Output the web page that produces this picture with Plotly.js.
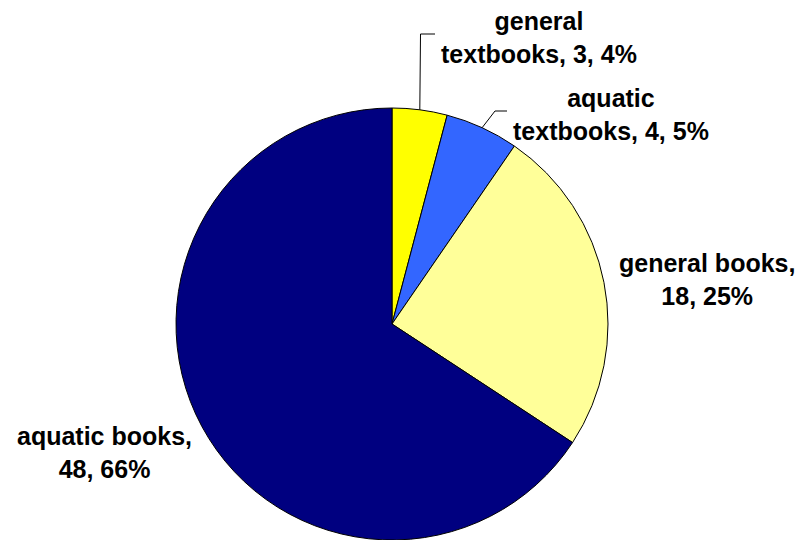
<!DOCTYPE html>
<html>
<head>
<meta charset="utf-8">
<script src="https://cdn.plot.ly/plotly-3.0.1.min.js"></script>
<style>html,body{margin:0;padding:0;background:#fff;}#chart{width:800px;height:540px;}</style>
</head>
<body>
<div id="chart"></div>
<script>
// Data
const categories = ['general textbooks', 'aquatic textbooks', 'general books', 'aquatic books'];
const values = [3, 4, 18, 48];
const colors = ['#FFFF00', '#3366FF', '#FFFF99', '#000080'];
// Where each label line breaks (first line / rest)
const labelLine1 = ['general', 'aquatic', 'general books,', 'aquatic books,'];
const labelLine2Prefix = ['textbooks, ', 'textbooks, ', '', ''];

const W = 800, H = 540;
const domX = [0.22, 0.76], domY = [0, 0.8];
const total = values.reduce((a, b) => a + b, 0);
const pcts = values.map(v => Math.round(v / total * 100));
const labelTexts = categories.map((c, i) =>
  '<b>' + labelLine1[i] + '</b><br><b>' + labelLine2Prefix[i] + values[i] + ', ' + pcts[i] + '%</b>');

// Label placement (pixel centres) and leader-line elbows (null = no leader)
const labelPos = [[539, 37], [611, 114], [707, 279], [104, 452]];
const elbows = [[[420.5, 34], [435, 34]], [[495, 111], [507, 111]], null, null];

const cx = (domX[0] + domX[1]) / 2 * W;
const cy = H - (domY[0] + domY[1]) / 2 * H;
const R = Math.min((domX[1] - domX[0]) * W, (domY[1] - domY[0]) * H) / 2;

const px = x => x / W, py = y => 1 - y / H;

const annotations = labelTexts.map((t, i) => ({
  xref: 'paper', yref: 'paper', x: px(labelPos[i][0]), y: py(labelPos[i][1]),
  xanchor: 'center', yanchor: 'middle', showarrow: false, text: t,
  font: {family: '"Liberation Sans", Arial, sans-serif', size: 25, color: '#000'}
}));

const shapes = [];
let cum = 0;
values.forEach((v, i) => {
  const mid = (cum + v / 2) / total * 2 * Math.PI;
  cum += v;
  if (!elbows[i]) return;
  const sx = cx + R * Math.sin(mid), sy = cy - R * Math.cos(mid);
  const pts = [[sx, sy]].concat(elbows[i]);
  const d = 'M ' + pts.map(p => px(p[0]) + ',' + py(p[1])).join(' L ');
  shapes.push({type: 'path', xref: 'paper', yref: 'paper', path: d,
    line: {color: '#000', width: 1}});
});

const trace = {
  type: 'pie', labels: categories, values: values, sort: false,
  direction: 'clockwise', rotation: 0,
  marker: {colors: colors, line: {color: '#000', width: 1}},
  textinfo: 'none', textposition: 'none', hoverinfo: 'none',
  domain: {x: domX, y: domY}
};

const layout = {
  width: W, height: H, margin: {l: 0, r: 0, t: 0, b: 0},
  showlegend: false, paper_bgcolor: '#fff', plot_bgcolor: '#fff',
  annotations: annotations, shapes: shapes
};

Plotly.newPlot('chart', [trace], layout, {staticPlot: true, displayModeBar: false});
</script>
</body>
</html>
